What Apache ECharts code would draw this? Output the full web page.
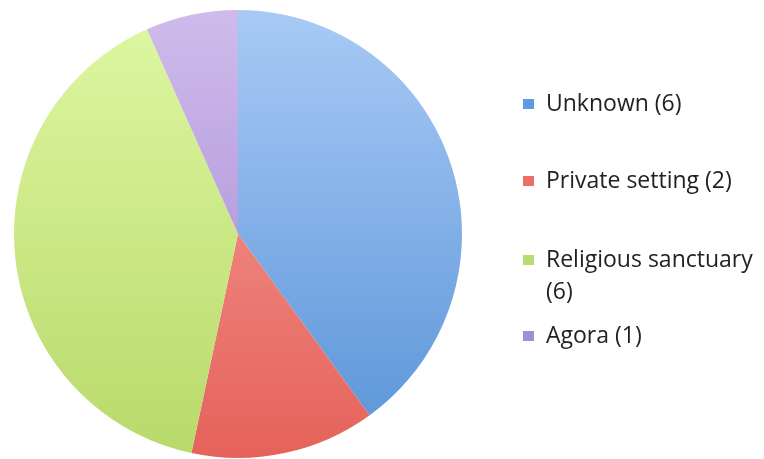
<!DOCTYPE html>
<html><head><meta charset="utf-8">
<script src="https://cdn.jsdelivr.net/npm/echarts@6/dist/echarts.min.js"></script>
<style>html,body{margin:0;padding:0;background:#fff}#c{width:764px;height:459px}</style>
</head><body><div id="c"></div>
<script>
var categories = ['Unknown', 'Private setting', 'Religious sanctuary', 'Agora'];
var values = [6, 2, 6, 1];
var legendLabels = ['Unknown (6)', 'Private setting (2)', '\nReligious sanctuary\n(6)', 'Agora (1)'];
var topColors = ['#a8caf5', '#f6a29b', '#def7a2', '#cfbbeb'];
var bottomColors = ['#5893d8', '#e5625a', '#b8d96a', '#a083d2'];
var legendColors = ['#5f9be0', '#ec6e68', '#b9dc70', '#a58cd6'];
var legendCenters = [104, 181, 260, 336];

var chart = echarts.init(document.getElementById('c'));
var data = categories.map(function (n, i) {
  return {
    name: n, value: values[i],
    itemStyle: { color: { type: 'linear', x: 0, y: 10, x2: 0, y2: 458, global: true,
      colorStops: [{ offset: 0, color: topColors[i] }, { offset: 1, color: bottomColors[i] }] } }
  };
});
var lh = 32;
var legends = categories.map(function (n, i) {
  var nLines = legendLabels[i].split('\n').length;
  return {
    orient: 'vertical', left: 518,
    top: legendCenters[i] - nLines * lh / 2 - 5,
    itemWidth: 11, itemHeight: 10, icon: 'rect',
    selectedMode: false,
    data: [{ name: n, itemStyle: { color: legendColors[i] } }],
    formatter: function () { return legendLabels[i]; },
    textStyle: { fontFamily: 'Open Sans', fontSize: 23, color: '#222222',
      lineHeight: lh, padding: [0, 0, 0, 7] }
  };
});
chart.setOption({
  animation: false,
  legend: legends,
  series: [{
    type: 'pie', center: [238, 234], radius: 224, startAngle: 90, clockwise: true,
    label: { show: false }, labelLine: { show: false },
    emphasis: { disabled: true },
    itemStyle: { borderWidth: 0 },
    data: data
  }]
});
</script></body></html>
